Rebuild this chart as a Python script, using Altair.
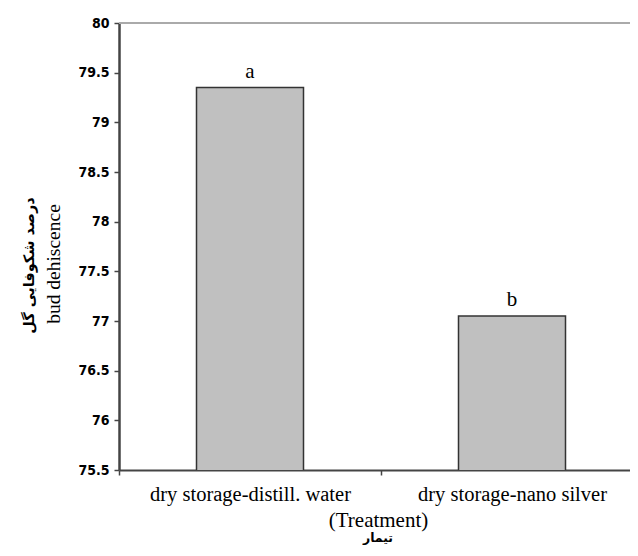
import altair as alt
import pandas as pd

categories = ["dry storage-distill. water", "dry storage-nano silver"]
values = [79.35, 77.05]
letters = ["a", "b"]
y_ticks = [75.5, 76, 76.5, 77, 77.5, 78, 78.5, 79, 79.5, 80]

df = pd.DataFrame({"cat": categories, "val": values, "letter": letters})

W, H = 511, 447
serif = "Liberation Serif, Times New Roman, serif"
narrow = "Liberation Sans Narrow, DejaVu Sans Condensed, Arial Narrow, sans-serif"

yscale = alt.Scale(domain=[75.5, 80], zero=False, nice=False)
xscale = alt.Scale(paddingInner=0, paddingOuter=0, range=[0, 524])

base = alt.Chart(df)

bars = base.mark_bar(size=107, color="#c0c0c0", stroke="#333333", strokeWidth=1.5, clip=True).encode(
    x=alt.X("cat:N", sort=categories, scale=xscale,
            axis=alt.Axis(title="(Treatment)", labelAngle=0, labelFont=serif, labelFontSize=20.5,
                          labelLimit=0, labelColor="#000", labelPadding=9, tickBand="extent",
                          tickSize=5, tickColor="#444", tickWidth=1.5,
                          domainColor="#444", domainWidth=2,
                          titleFont=serif, titleFontSize=21, titleFontWeight="normal",
                          titleColor="#000", titleX=259, titleY=50, titleBaseline="middle")),
    y=alt.Y("val:Q", scale=yscale,
            axis=alt.Axis(title="bud dehiscence", values=y_ticks, format="~g", grid=False,
                          labelFont=narrow, labelFontSize=14, labelFontWeight="bold",
                          labelColor="#000", labelPadding=5,
                          tickSize=5, tickColor="#444", tickWidth=1.5,
                          domainColor="#444", domainWidth=2.5,
                          titleFont=serif, titleFontSize=19.5, titleFontWeight="normal",
                          titleColor="#000", titleX=-66, titleY=H / 2 + 17, titleAngle=-90,
                          titleAlign="center", titleBaseline="middle")),
)

labels = base.mark_text(font=serif, fontSize=21, baseline="bottom", dy=-6, color="#000").encode(
    x=alt.X("cat:N", sort=categories, scale=xscale),
    y=alt.Y("val:Q", scale=yscale),
    text="letter:N",
)

topline = alt.Chart(pd.DataFrame({"y": [80]})).mark_rule(color="#aaaaaa", strokeWidth=2).encode(
    y=alt.Y("y:Q", scale=yscale),
    x=alt.value(0), x2=alt.value(524),
)

fa_y = alt.Chart(pd.DataFrame({"t": ["درصد شکوفایی گل"]})).mark_text(
    font="DejaVu Sans", fontSize=14.5, fontWeight="bold", angle=270, color="#000",
    align="center", baseline="middle"
).encode(x=alt.value(-89), y=alt.value(H / 2 + 19), text="t:N")

fa_x = alt.Chart(pd.DataFrame({"t": ["تیمار"]})).mark_text(
    font="DejaVu Sans", fontSize=12.5, fontWeight="bold", color="#000",
    align="center", baseline="middle"
).encode(x=alt.value(259), y=alt.value(H + 68), text="t:N")

chart = alt.layer(topline, bars, labels, fa_y, fa_x).properties(
    width=W, height=H,
    autosize=alt.AutoSizeParams(type="none"),
    padding={"left": 111, "top": 15, "right": 0, "bottom": 78},
).configure_view(stroke=None)

chart.save("out.html", embed_options={"renderer": "svg", "actions": False})
